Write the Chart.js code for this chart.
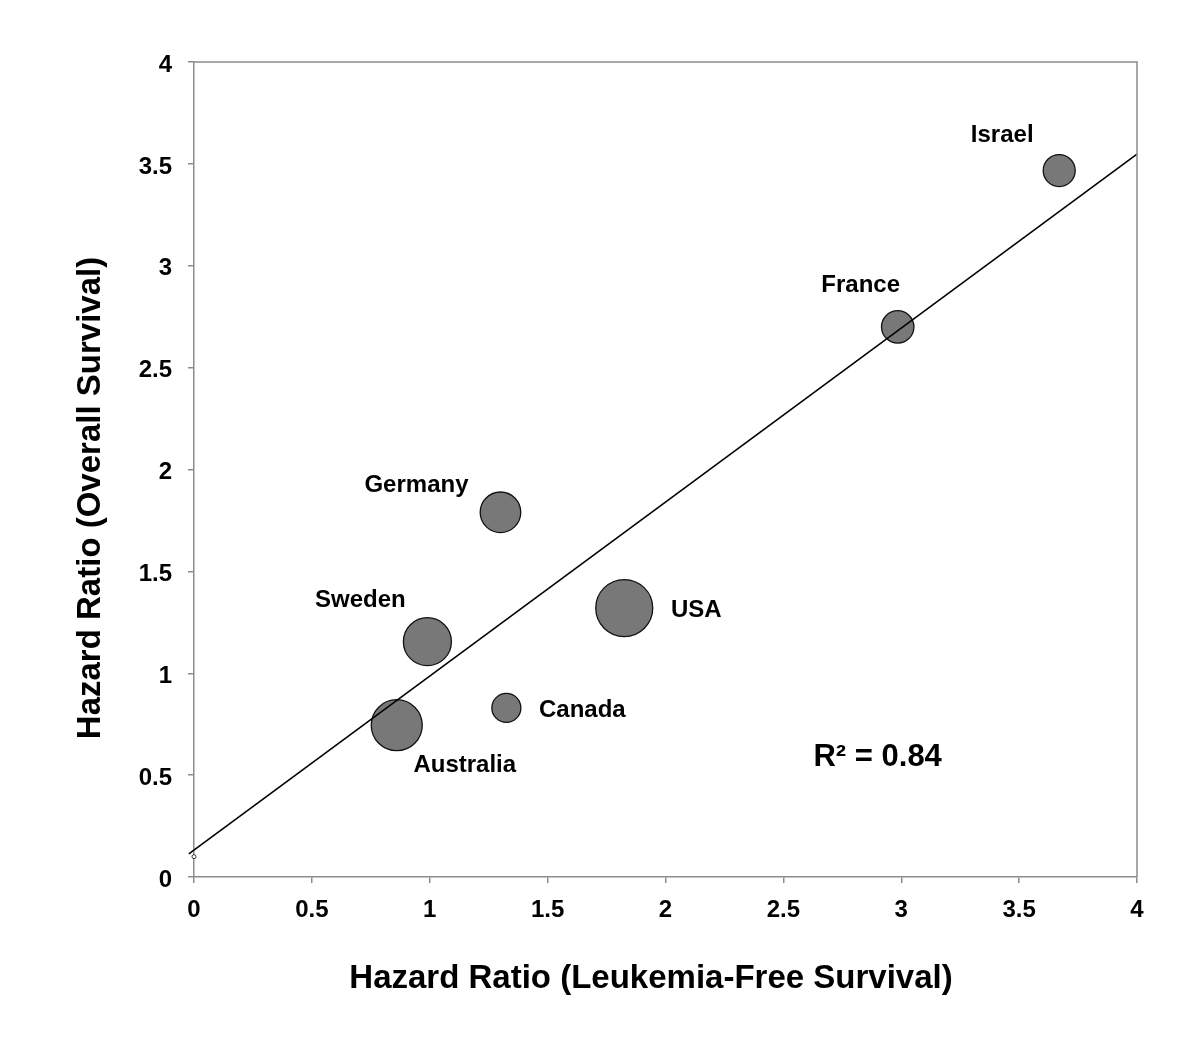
<!DOCTYPE html>
<html>
<head>
<meta charset="utf-8">
<script src="https://cdn.jsdelivr.net/npm/chart.js@4.4.1/dist/chart.umd.min.js"></script>
<style>
  html, body { margin: 0; padding: 0; background: #fff; }
  #wrap { width: 1200px; height: 1054px; }
</style>
</head>
<body>
<div id="wrap"><canvas id="chart" width="1200" height="1054"></canvas></div>
<script>
/* ================= DATA ================= */
const countries = ["Israel", "France", "Germany", "USA", "Sweden", "Canada", "Australia"];
const lfsHazard = [3.67, 2.985, 1.30, 1.825, 0.99, 1.325, 0.86];
const osHazard = [3.467, 2.70, 1.79, 1.32, 1.155, 0.83, 0.745];
const bubbleRadius = [16, 16.2, 20.3, 28.5, 24, 14.5, 25.5];

const trendX = [-0.022, 4];
const trendY = [0.113, 3.548];

const originX = [0];
const originY = [0.1];

const xTickLabels = ["0", "0.5", "1", "1.5", "2", "2.5", "3", "3.5", "4"];
const yTickLabels = ["0", "0.5", "1", "1.5", "2", "2.5", "3", "3.5", "4"];

const xTitle = "Hazard Ratio (Leukemia-Free Survival)";
const yTitle = "Hazard Ratio (Overall Survival)";
const r2Text = "R\u00b2 = 0.84";

/* ================= STYLE ================= */
const FONT = "'Liberation Sans', Arial, Helvetica, sans-serif";
const AXIS_COLOR = "#8c8c8c";
// label offset from bubble centre (px): [dx, dy to baseline]
const labelOffset = {
  Israel: [-57, -29],
  France: [-37, -35],
  Germany: [-84, -20],
  USA: [72, 9],
  Sweden: [-67, -35],
  Canada: [76, 9],
  Australia: [68, 47]
};

/* ================= PLUGIN ================= */
const annotate = {
  id: "annotate",
  afterDatasetsDraw(chart) {
    const { ctx, chartArea: a, scales } = chart;
    ctx.save();

    // top + right frame
    ctx.strokeStyle = AXIS_COLOR;
    ctx.lineWidth = 1.5;
    ctx.beginPath();
    ctx.moveTo(a.left, a.top);
    ctx.lineTo(a.right, a.top);
    ctx.lineTo(a.right, a.bottom);
    ctx.stroke();

    // country labels
    ctx.fillStyle = "#000";
    ctx.font = "bold 24px " + FONT;
    ctx.textAlign = "center";
    ctx.textBaseline = "alphabetic";
    const meta = chart.getDatasetMeta(2);
    countries.forEach((name, i) => {
      const el = meta.data[i];
      const off = labelOffset[name];
      ctx.fillText(name, el.x + off[0], el.y + off[1]);
    });

    // R squared
    ctx.font = "bold 31px " + FONT;
    ctx.fillText(r2Text, scales.x.getPixelForValue(2.9), scales.y.getPixelForValue(0.544));

    // axis titles
    ctx.font = "bold 33px " + FONT;
    ctx.fillText(xTitle, 651, 988);
    ctx.translate(100, 498);
    ctx.rotate(-Math.PI / 2);
    ctx.fillText(yTitle, 0, 0);

    ctx.restore();
  }
};

/* ================= CHART ================= */
const ctx = document.getElementById("chart").getContext("2d");

new Chart(ctx, {
  type: "bubble",
  data: {
    datasets: [
      {
        type: "line",
        data: trendX.map((x, i) => ({ x, y: trendY[i] })),
        borderColor: "#000",
        borderWidth: 1.6,
        pointRadius: 0,
        fill: false,
        clip: false
      },
      {
        type: "scatter",
        data: originX.map((x, i) => ({ x, y: originY[i] })),
        pointRadius: 2,
        pointBorderWidth: 1,
        pointBorderColor: "#334",
        pointBackgroundColor: "#fff",
        clip: false
      },
      {
        label: "Countries",
        data: lfsHazard.map((x, i) => ({ x, y: osHazard[i], r: bubbleRadius[i] })),
        backgroundColor: "#787878",
        borderColor: "#111",
        borderWidth: 1.3
      }
    ]
  },
  plugins: [annotate],
  options: {
    responsive: false,
    animation: false,
    devicePixelRatio: 1,
    layout: { padding: { top: 62, right: 63, left: 0, bottom: 0 } },
    plugins: {
      legend: { display: false },
      tooltip: { enabled: false }
    },
    scales: {
      x: {
        type: "linear",
        min: 0,
        max: 4,
        afterFit(scale) { scale.height = 177; },
        afterBuildTicks(scale) {
          scale.ticks = xTickLabels.map(v => ({ value: Number(v) }));
        },
        ticks: {
          callback: (v, i) => xTickLabels[i],
          color: "#000",
          font: { family: FONT, size: 24, weight: "bold" },
          padding: 13,
          maxRotation: 0
        },
        grid: { drawOnChartArea: false, drawTicks: true, tickLength: 6, color: AXIS_COLOR, lineWidth: 1.5 },
        border: { display: true, color: AXIS_COLOR, width: 1.5 }
      },
      y: {
        type: "linear",
        min: 0,
        max: 4,
        afterFit(scale) { scale.width = 194; },
        afterBuildTicks(scale) {
          scale.ticks = yTickLabels.map(v => ({ value: Number(v) }));
        },
        ticks: {
          callback: (v, i) => yTickLabels[i],
          color: "#000",
          font: { family: FONT, size: 24, weight: "bold" },
          padding: 16,
          labelOffset: 3
        },
        grid: { drawOnChartArea: false, drawTicks: true, tickLength: 6, color: AXIS_COLOR, lineWidth: 1.5 },
        border: { display: true, color: AXIS_COLOR, width: 1.5 }
      }
    }
  }
});
</script>
</body>
</html>
